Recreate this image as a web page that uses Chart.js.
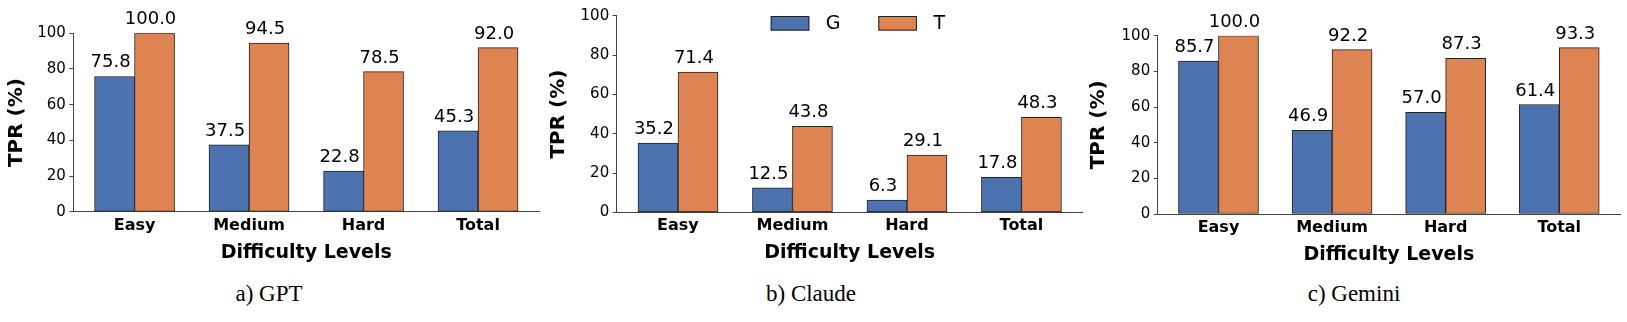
<!DOCTYPE html>
<html>
<head>
<meta charset="utf-8">
<script src="https://cdn.jsdelivr.net/npm/chart.js@4.4.1/dist/chart.umd.min.js"></script>
<style>
  body { margin: 0; background: #fff; width: 1627px; height: 322px; overflow: hidden; position: relative; }
  canvas { position: absolute; top: 0; }
  .caption { position: absolute; top: 282px; width: 240px; text-align: center; font-family: 'Liberation Serif', 'Times New Roman', serif; font-size: 23px; line-height: 23px; color: #000; }
</style>
</head>
<body>
<canvas id="gptChart" width="545" height="272" style="left:0px"></canvas>
<canvas id="claudeChart" width="550" height="272" style="left:540px"></canvas>
<canvas id="geminiChart" width="547" height="272" style="left:1080px"></canvas>
<div class="caption" style="left:149px">a) GPT</div>
<div class="caption" style="left:691px">b) Claude</div>
<div class="caption" style="left:1234px">c) Gemini</div>

<script>
// Dữ liệu
const levels = ['Easy', 'Medium', 'Hard', 'Total'];
const yTicks = [0, 20, 40, 60, 80, 100];
const seriesNames = ['G', 'T'];

const gptG = [75.8, 37.5, 22.8, 45.3];
const gptT = [100.0, 94.5, 78.5, 92.0];
const claudeG = [35.2, 12.5, 6.3, 17.8];
const claudeT = [71.4, 43.8, 29.1, 48.3];
const geminiG = [85.7, 46.9, 57.0, 61.4];
const geminiT = [100.0, 92.2, 87.3, 93.3];

const BLUE = '#4C72B0';
const ORANGE = '#DD8452';
const FONT = "'DejaVu Sans', sans-serif";

// Nhãn giá trị trên mỗi cột
const barValueLabels = {
    id: 'barValueLabels',
    afterDatasetsDraw(chart) {
        const ctx = chart.ctx;
        ctx.save();
        ctx.font = '18px ' + FONT;
        ctx.fillStyle = '#000';
        ctx.textAlign = 'center';
        ctx.textBaseline = 'alphabetic';
        chart.data.datasets.forEach((ds, i) => {
            chart.getDatasetMeta(i).data.forEach((bar, j) => {
                ctx.fillText(ds.data[j].toFixed(1), bar.x - 4, bar.y - 9);
            });
        });
        ctx.restore();
    }
};

// Chú thích nằm trong vùng vẽ (chỉ cho biểu đồ giữa)
const insideLegend = {
    id: 'insideLegend',
    afterDraw(chart) {
        const ctx = chart.ctx;
        const area = chart.chartArea;
        ctx.save();
        ctx.font = '19px ' + FONT;
        ctx.textAlign = 'left';
        ctx.textBaseline = 'middle';
        chart.data.datasets.forEach((ds, i) => {
            const x = area.left + 154 + i * 107.6;
            const y = area.top + 7.6;
            ctx.fillStyle = ds.backgroundColor;
            ctx.fillRect(x, y - 7.3, 38.6, 14.6);
            ctx.strokeStyle = '#222';
            ctx.lineWidth = 1;
            ctx.strokeRect(x + 0.5, y - 7.3 + 0.5, 37.6, 13.6);
            ctx.fillStyle = '#000';
            ctx.fillText(ds.label, x + 38.6 + 16.5, y + 1);
        });
        ctx.restore();
    }
};

function makeChart(canvasId, gValues, tValues, box, extraPlugins) {
    const ctx = document.getElementById(canvasId).getContext('2d');
    return new Chart(ctx, {
        type: 'bar',
        data: {
            labels: levels.map((l, i) => i),
            datasets: [
                { label: seriesNames[0], data: gValues, backgroundColor: BLUE },
                { label: seriesNames[1], data: tValues, backgroundColor: ORANGE }
            ]
        },
        options: {
            responsive: false,
            animation: false,
            devicePixelRatio: 1,
            layout: {
                padding: { left: 0, top: box.top, right: box.right, bottom: box.bottom }
            },
            datasets: {
                bar: {
                    barThickness: 40,
                    borderColor: '#222',
                    borderWidth: 1,
                    borderSkipped: false
                }
            },
            plugins: {
                legend: { display: false },
                tooltip: { enabled: false }
            },
            scales: {
                x: {
                    type: 'linear',
                    offset: false,
                    min: -0.535,
                    max: 3.535,
                    grid: { display: false, drawTicks: false },
                    border: { display: true, color: '#444', width: 1 },
                    ticks: {
                        stepSize: 1,
                        includeBounds: false,
                        autoSkip: false,
                        maxRotation: 0,
                        padding: 4.1,
                        color: '#000',
                        font: { family: FONT, size: 16, weight: 'bold' },
                        callback: value => levels[value]
                    },
                    title: {
                        display: true,
                        text: 'Difficulty Levels',
                        color: '#000',
                        font: { family: FONT, size: 19, weight: 'bold' },
                        padding: { top: 0, bottom: 5.6 }
                    },
                    afterFit: scale => { scale.height = 58; }
                },
                y: {
                    min: 0,
                    max: 100,
                    grid: {
                        display: true,
                        drawOnChartArea: false,
                        drawTicks: true,
                        tickLength: 4,
                        color: '#444'
                    },
                    border: { display: true, color: '#444', width: 1 },
                    afterBuildTicks: scale => {
                        scale.ticks = yTicks.map(v => ({ value: v }));
                    },
                    ticks: {
                        padding: 3.5,
                        color: '#000',
                        font: { family: FONT, size: 15 }
                    },
                    title: {
                        display: true,
                        text: 'TPR (%)',
                        color: '#000',
                        font: { family: FONT, size: 20, weight: 'bold' },
                        padding: { top: box.titlePad, bottom: 0 }
                    },
                    afterFit: scale => { scale.width = box.yWidth; }
                }
            }
        },
        plugins: [barValueLabels].concat(extraPlugins || [])
    });
}

makeChart('gptChart', gptG, gptT, { yWidth: 73.3, right: 5.7, top: 33.3, bottom: 2.2, titlePad: 4.6 });
makeChart('claudeChart', claudeG, claudeT, { yWidth: 76.7, right: 7.3, top: 15.7, bottom: 1.6, titlePad: 7 }, [insideLegend]);
makeChart('geminiChart', geminiG, geminiT, { yWidth: 77.7, right: 7, top: 35.7, bottom: 0, titlePad: 6.5 });
</script>
</body>
</html>
